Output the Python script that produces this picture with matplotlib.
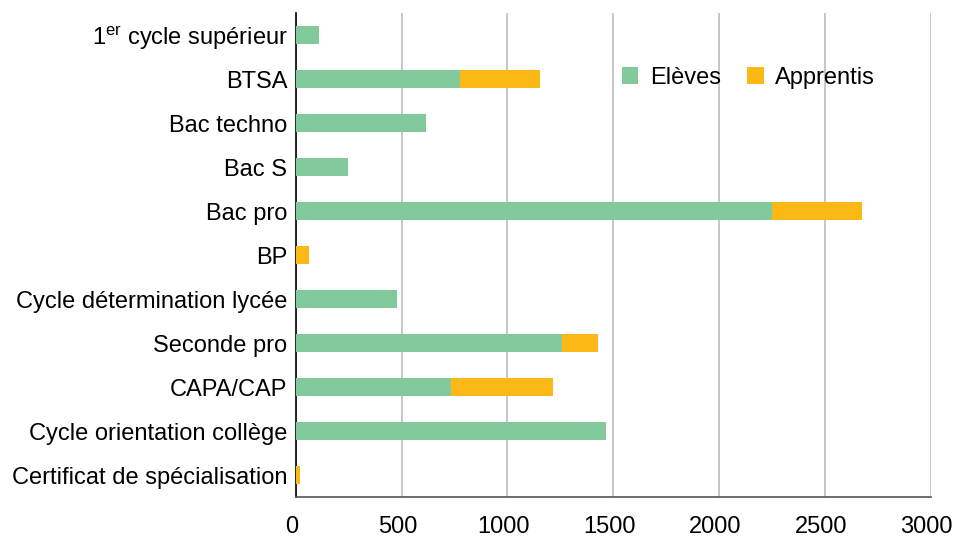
import matplotlib
matplotlib.use("Agg")
import matplotlib.pyplot as plt
from matplotlib.patches import Patch
from matplotlib.transforms import ScaledTranslation

plt.rcParams['font.family'] = ['Liberation Sans', 'DejaVu Sans']
plt.rcParams['mathtext.fontset'] = 'custom'
plt.rcParams['mathtext.rm'] = 'Liberation Sans'
plt.rcParams['mathtext.it'] = 'Liberation Sans'

categories = [
    "1$^{\\mathrm{er}}$ cycle supérieur",
    "BTSA",
    "Bac techno",
    "Bac S",
    "Bac pro",
    "BP",
    "Cycle détermination lycée",
    "Seconde pro",
    "CAPA/CAP",
    "Cycle orientation collège",
    "Certificat de spécialisation",
]
eleves = [110, 776, 616, 247, 2250, 0, 479, 1257, 734, 1466, 0]
apprentis = [0, 378, 0, 0, 425, 63, 0, 171, 482, 0, 20]
xticks = [0, 500, 1000, 1500, 2000, 2500, 3000]

green = "#82CA9C"
orange = "#FCB815"
FS = 17

fig = plt.figure(figsize=(9.55, 5.40), dpi=100)
ax = fig.add_axes([0.3096, 0.0796, 0.9746 - 0.3096, 0.9759 - 0.0796])

y = list(range(len(categories)))
ax.barh(y, eleves, height=0.43, color=green, zorder=3)
ax.barh(y, apprentis, left=eleves, height=0.43, color=orange, zorder=3)

ax.set_ylim(len(categories) - 0.5, -0.5)
ax.set_xlim(0, 3000)
ax.set_yticks(y)
ax.set_yticklabels(categories, fontsize=FS)
ax.set_xticks(xticks)
ax.set_xticklabels([str(t) for t in xticks], fontsize=FS)
ax.tick_params(axis='y', length=0, pad=6)
ax.tick_params(axis='x', length=0, pad=14)
shift = ScaledTranslation(-4 / 100, 0, fig.dpi_scale_trans)
for lab in ax.get_xticklabels():
    lab.set_transform(lab.get_transform() + shift)

ax.grid(axis='x', color='#bdbdbd', linewidth=1.2, zorder=0)
ax.set_axisbelow(True)
for s in ['top', 'right']:
    ax.spines[s].set_visible(False)
ax.spines['left'].set_color('#000000')
ax.spines['left'].set_linewidth(1.2)
ax.spines['bottom'].set_color('#555555')
ax.spines['bottom'].set_linewidth(1.2)

handles = [Patch(facecolor=green, label='Elèves'), Patch(facecolor=orange, label='Apprentis')]
leg = ax.legend(handles=handles, ncol=2, frameon=False, fontsize=FS,
                loc='center', bbox_to_anchor=(0.713, 0.866),
                handlelength=0.7, handleheight=0.7, handletextpad=0.5,
                columnspacing=1.1)

fig.savefig("out.png", dpi=100)
